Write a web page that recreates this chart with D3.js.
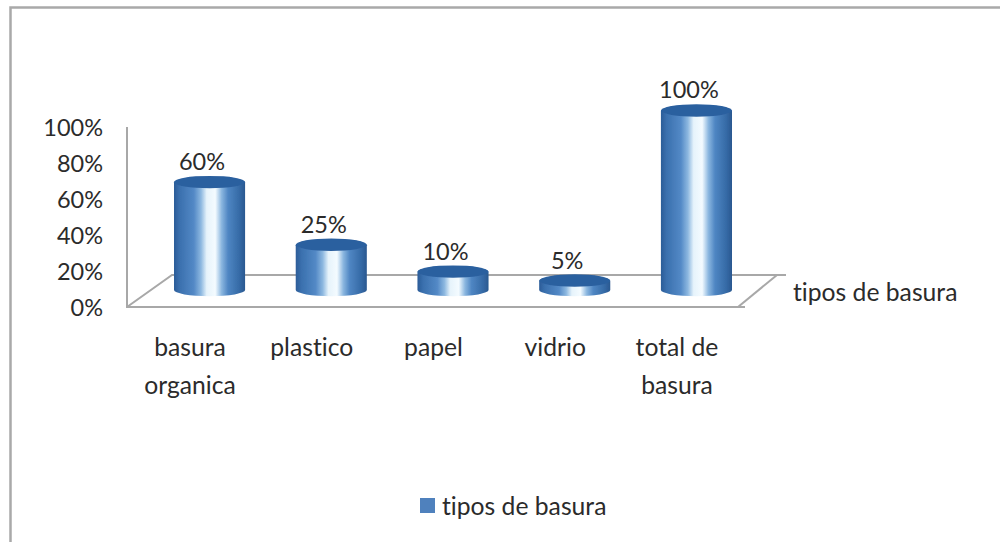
<!DOCTYPE html>
<html><head><meta charset="utf-8">
<script src="https://cdn.jsdelivr.net/npm/d3@7/dist/d3.min.js"></script>
<style>html,body{margin:0;padding:0;background:#fff;overflow:hidden}svg{display:block}text{font-family:Lato,"Open Sans",sans-serif;fill:#2b2b2b;font-variant-ligatures:none}</style>
</head><body><svg id="c" width="1000" height="542"></svg>
<script>
const categories = ["basura organica","plastico","papel","vidrio","total de basura"];
const values = [60,25,10,5,100];
const valueLabels = ["60%","25%","10%","5%","100%"];
const yTicks = [0,20,40,60,80,100];
const seriesName = "tipos de basura";
const headingFragment = "resultados";

const svg = d3.select("#c");
const fs = 24.7, fsNum = 23.5;
const x = d3.scaleBand().domain(categories).range([174,732]).paddingInner(0.416);
const yBar = d3.scaleLinear().domain([0,100]).range([290,111]);
const yAxis = d3.scaleLinear().domain([0,100]).range([307,127]);

const defs = svg.append("defs");
const grad = defs.append("linearGradient").attr("id","cyl").attr("x1","0").attr("x2","1").attr("y1","0").attr("y2","0");
[[0,"#2b5c98"],[0.08,"#3a70ae"],[0.28,"#5389c6"],[0.38,"#8db8e0"],[0.46,"#e6f3fb"],[0.58,"#f4fbff"],[0.67,"#8ab6df"],[0.76,"#4f86c3"],[0.92,"#356aa6"],[1,"#2a5890"]]
  .forEach(s=>grad.append("stop").attr("offset",s[0]).attr("stop-color",s[1]));
defs.append("filter").attr("id","soft").append("feGaussianBlur").attr("stdDeviation",0.6);

// page heading clipped by the top edge, and the chart frame
svg.append("text").attr("x",16).attr("y",-1).attr("font-size",29).attr("font-weight",700).style("fill","#777").text(headingFragment);
svg.append("path").attr("d","M1000,7.5H10.5V542").attr("fill","none").attr("stroke","#a9a9a9").attr("stroke-width",2.5);

// 3D floor
const floor = svg.append("g").attr("fill","none").attr("stroke","#a8a8a8").attr("stroke-width",2);
const z0 = yAxis(0), backY = 275;
floor.append("path").attr("d",`M127,${yAxis(100)}V${z0}H745`);
floor.append("path").attr("d",`M127,${z0}L172,${backY}H786`);
floor.append("path").attr("d",`M738,${z0}L777,${backY}`);

// y axis labels
const ax = svg.append("g").attr("transform","translate(127,0)")
  .call(d3.axisLeft(yAxis).tickValues(yTicks).tickFormat(d=>d+"%").tickSize(0).tickPadding(24));
ax.select(".domain").remove();
ax.selectAll("text").attr("font-size",fsNum).attr("dy","0.34em");
ax.attr("font-family",null).attr("font-size",null);

// cylinders
const ry = 6.2;
const g = svg.selectAll("g.bar").data(categories.map((c,i)=>({c,v:values[i],l:valueLabels[i]}))).join("g").attr("class","bar").attr("filter","url(#soft)");
g.append("path").attr("fill","url(#cyl)").attr("d",d=>{
  const a=x(d.c), w=x.bandwidth(), t=yBar(d.v), b=yBar(0), rx=w/2;
  return `M${a},${t}V${b}A${rx},${ry} 0 0 0 ${a+w},${b}V${t}A${rx},${ry} 0 0 0 ${a},${t}Z`;
});
g.append("ellipse").attr("cx",d=>x(d.c)+x.bandwidth()/2).attr("cy",d=>yBar(d.v)-0.5).attr("rx",x.bandwidth()/2).attr("ry",ry).attr("fill","#2c609f");

// value labels
svg.selectAll("text.val").data(categories.map((c,i)=>({c,v:values[i],l:valueLabels[i]}))).join("text").attr("class","val")
  .attr("x",d=>x(d.c)+x.bandwidth()/2-7.5).attr("y",d=>yBar(d.v)-21).attr("dy","0.36em")
  .attr("text-anchor","middle").attr("font-size",fsNum).text(d=>d.l);

// category labels
const cat = svg.selectAll("text.cat").data(categories).join("text").attr("class","cat")
  .attr("text-anchor","middle").attr("font-size",fs);
cat.each(function(d){
  const sp=d.lastIndexOf(" ");
  const lines = sp<0?[d]:[d.slice(0,sp),d.slice(sp+1)];
  d3.select(this).selectAll("tspan").data(lines).join("tspan")
    .attr("x",x(d)+x.bandwidth()/2-19.5).attr("y",(l,i)=>347+i*38.5).attr("dy","0.36em").text(l=>l);
});

// series axis label and legend
svg.append("text").attr("x",793).attr("y",292).attr("dy","0.36em").attr("font-size",fs).text(seriesName);
svg.append("rect").attr("x",420).attr("y",498).attr("width",15).attr("height",15).attr("fill","#4f81bd");
svg.append("text").attr("x",442).attr("y",506).attr("dy","0.36em").attr("font-size",fs).text(seriesName);
</script></body></html>
